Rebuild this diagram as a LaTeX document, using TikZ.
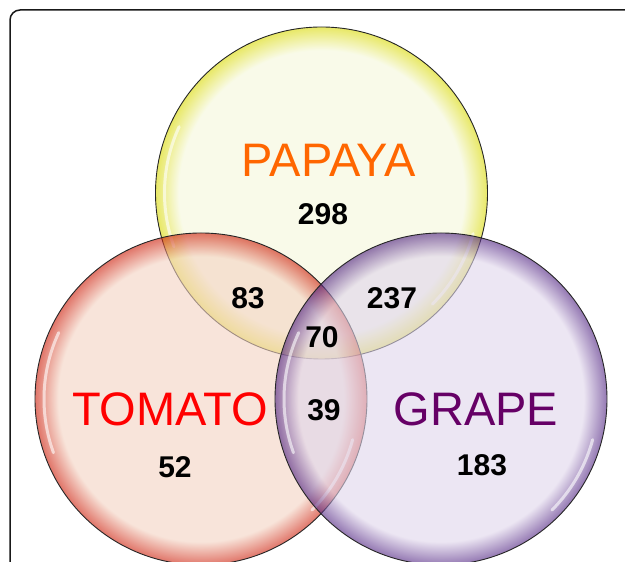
\documentclass[tikz,border=0pt]{standalone}
\usepackage{fontspec}
\setmainfont{Liberation Sans}
\definecolor{papayaorange}{RGB}{255,102,0}
\definecolor{tomatored}{RGB}{255,0,0}
\definecolor{grapepurple}{RGB}{102,0,102}
\pgfdeclareradialshading{papayaglow}{\pgfpoint{0bp}{0bp}}{rgb(0bp)=(0.96,0.97,0.855); rgb(21.5bp)=(0.96,0.97,0.855); rgb(25bp)=(0.85,0.85,0.0); rgb(50bp)=(0.85,0.85,0.0)}
\pgfdeclareradialshading{tomatoglow}{\pgfpoint{0bp}{0bp}}{rgb(0bp)=(0.953,0.824,0.757); rgb(21.5bp)=(0.953,0.824,0.757); rgb(25bp)=(0.8,0.1,0.02); rgb(50bp)=(0.8,0.1,0.02)}
\pgfdeclareradialshading{grapeglow}{\pgfpoint{0bp}{0bp}}{rgb(0bp)=(0.875,0.835,0.92); rgb(21.5bp)=(0.875,0.835,0.92); rgb(25bp)=(0.3,0.12,0.5); rgb(50bp)=(0.3,0.12,0.5)}
\begin{document}
\begin{tikzpicture}[x=1pt, y=1pt,
  fruitname/.style={font=\fontsize{47}{50}\selectfont, inner sep=0pt},
  count/.style={font=\fontsize{30}{32}\selectfont\bfseries, inner sep=0pt},
  rim/.style={draw=black!85, line width=0.9pt},
  shine/.style={white, line width=3pt, opacity=0.6, line cap=round}]
  \useasboundingbox (0,0) rectangle (625,562);
  \clip (0,0) rectangle (625,562);
  % frame
  \draw[black!90, line width=1.5pt, rounded corners=10pt] (10,-20) -- (10,552) -- (650,552);
  % circles
  \coordinate (papaya) at (321.5,369);
  \coordinate (tomato) at (201,163);
  \coordinate (grape) at (441,163);
  \foreach \fruit in {papaya, tomato, grape} {
    \shade[shading=\fruit glow, fill opacity=0.6] (\fruit) circle (166);
    \draw[rim] (\fruit) circle (166);
    \draw[shine] ([shift={(155:157)}]\fruit) arc (155:200:157);
    \draw[shine] ([shift={(-15:157)}]\fruit) arc (-15:-45:157);
  }
  % labels
  \node[fruitname, text=papayaorange] (papayalabel) at (329,401.5) {PAPAYA};
  \node[fruitname, text=tomatored] (tomatolabel) at (170,153) {TOMATO};
  \node[fruitname, text=grapepurple] (grapelabel) at (476,153) {GRAPE};
  % counts
  \node[count] (onlypapaya) at (323,347.5) {298};
  \node[count] (papayatomato) at (248,264) {83};
  \node[count] (papayagrape) at (392,264) {237};
  \node[count] (allthree) at (322,225) {70};
  \node[count] (tomatogrape) at (324,152) {39};
  \node[count] (onlytomato) at (175,95) {52};
  \node[count] (onlygrape) at (482,97) {183};
\end{tikzpicture}
\end{document}
